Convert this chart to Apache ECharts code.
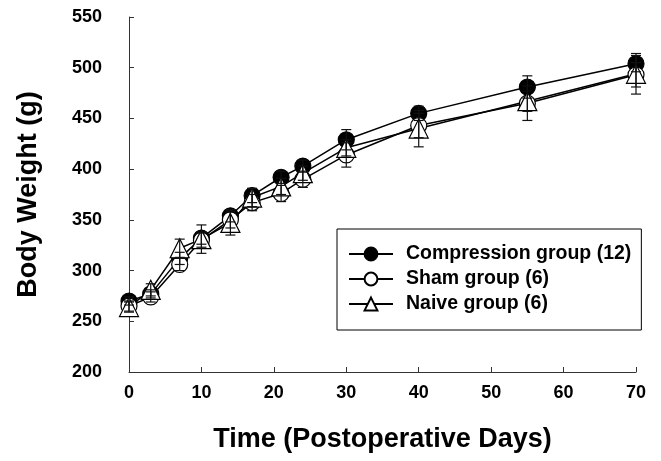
<!DOCTYPE html>
<html>
<head>
<meta charset="utf-8">
<script src="https://cdn.jsdelivr.net/npm/echarts@6/dist/echarts.min.js"></script>
<style>
  html, body { margin: 0; padding: 0; background: #fff; }
  #main { width: 661px; height: 461px; }
</style>
</head>
<body>
<div id="main"></div>
<script>
// days after surgery
var days = [0, 3, 7, 10, 14, 17, 21, 24, 30, 40, 55, 70];
// mean body weight (g)
var compression = [270, 277, 312, 332, 354, 374, 392, 403, 429, 455, 481, 504];
var sham = [265, 274, 306, 330, 350, 367, 376, 390, 414, 443, 465, 493];
var naive = [264, 281, 322, 331, 347, 372, 383, 396, 421, 440, 467, 494];
// error bars (SEM)
var compressionErr = [4, 4, 6, 6, 6, 7, 6, 6, 10, 7, 11, 8];
var shamErr = [5, 5, 6, 7, 8, 8, 8, 8, 12, 12, 17, 12];
var naiveErr = [5, 6, 9, 14, 12, 9, 8, 7, 8, 18, 10, 20];

var names = ['Compression group (12)', 'Sham group (6)', 'Naive group (6)'];
var font = 'Liberation Sans, Arial, sans-serif';

function pairs(ys) {
    return days.map(function (d, i) { return [d, ys[i]]; });
}
function errData(ys, es) {
    return days.map(function (d, i) { return [d, ys[i], es[i]]; });
}

// 误差线
function errorBar(name, ys, es) {
    return {
        name: name,
        type: 'custom',
        data: errData(ys, es),
        encode: { x: 0, y: 1 },
        renderItem: function (params, api) {
            var x = api.value(0), y = api.value(1), e = api.value(2);
            var hi = api.coord([x, y + e]);
            var lo = api.coord([x, y - e]);
            var w = 5;
            var st = { stroke: '#111', lineWidth: 1.2 };
            return {
                type: 'group',
                children: [
                    { type: 'line', shape: { x1: hi[0], y1: hi[1], x2: lo[0], y2: lo[1] }, style: st },
                    { type: 'line', shape: { x1: hi[0] - w, y1: hi[1], x2: hi[0] + w, y2: hi[1] }, style: st },
                    { type: 'line', shape: { x1: lo[0] - w, y1: lo[1], x2: lo[0] + w, y2: lo[1] }, style: st }
                ]
            };
        },
        z: 3
    };
}

function lineSeries(name, ys, symbol, size, fill) {
    return {
        name: name,
        type: 'line',
        data: pairs(ys),
        symbol: symbol,
        symbolSize: size,
        showAllSymbol: true,
        lineStyle: { color: '#000', width: 1.5 },
        itemStyle: { color: fill, borderColor: '#000', borderWidth: 1.2 },
        z: 2
    };
}

var chart = echarts.init(document.getElementById('main'));

var option = {
    animation: false,
    backgroundColor: '#fff',
    textStyle: { fontFamily: font },
    grid: { left: 129, right: 25, top: 17, bottom: 89 },
    legend: {
        data: names,
        orient: 'vertical',
        left: 337,
        top: 229,
        padding: [15, 10, 16, 11],
        itemWidth: 44,
        itemHeight: 16,
        itemGap: 5,
        borderColor: '#000',
        borderWidth: 1,
        textStyle: {
            fontFamily: font,
            fontWeight: 'bold',
            fontSize: 19.5,
            color: '#000',
            lineHeight: 18,
            padding: [0, 0, 0, 8]
        }
    },
    xAxis: {
        type: 'value',
        min: 0,
        max: 70,
        interval: 10,
        name: 'Time (Postoperative Days)',
        nameLocation: 'middle',
        nameGap: 54,
        nameTextStyle: { fontFamily: font, fontWeight: 'bold', fontSize: 27, color: '#000' },
        axisLine: { lineStyle: { color: '#333', width: 1 } },
        axisTick: { inside: true, length: 5, lineStyle: { color: '#333' } },
        axisLabel: { margin: 12, fontFamily: font, fontWeight: 'bold', fontSize: 18, color: '#000' },
        splitLine: { show: false }
    },
    yAxis: {
        type: 'value',
        min: 200,
        max: 550,
        interval: 50,
        offset: 15,
        name: 'Body Weight (g)',
        nameLocation: 'middle',
        nameGap: 72,
        nameTextStyle: { fontFamily: font, fontWeight: 'bold', fontSize: 27, color: '#000' },
        axisLine: { show: true, lineStyle: { color: '#333', width: 1 } },
        axisTick: { show: true, inside: true, length: 5, lineStyle: { color: '#333' } },
        axisLabel: { margin: 12, fontFamily: font, fontWeight: 'bold', fontSize: 18, color: '#000' },
        splitLine: { show: false }
    },
    series: [
        lineSeries(names[0], compression, 'circle', 16, '#000'),
        lineSeries(names[1], sham, 'circle', 16, '#fff'),
        lineSeries(names[2], naive, 'triangle', 19, '#fff'),
        errorBar('err1', compression, compressionErr),
        errorBar('err2', sham, shamErr),
        errorBar('err3', naive, naiveErr)
    ]
};

chart.setOption(option);
</script>
</body>
</html>
